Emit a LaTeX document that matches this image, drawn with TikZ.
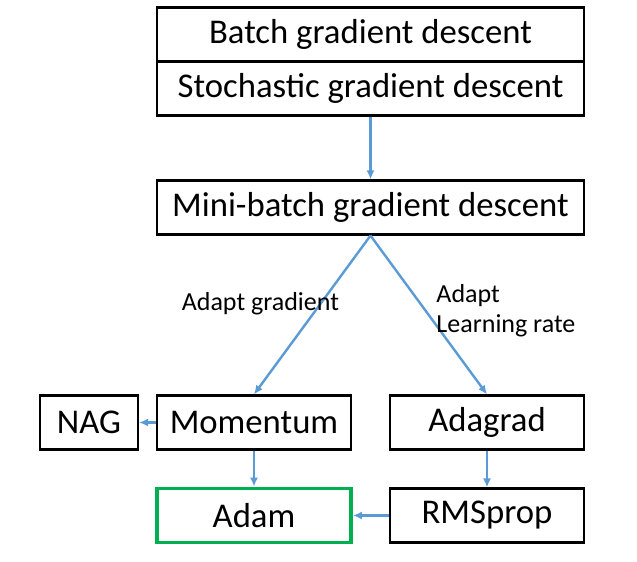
\documentclass[tikz,border=0pt]{standalone}
\usepackage{fontspec}
\setmainfont{Carlito}
\usetikzlibrary{arrows.meta}
\usetikzlibrary{positioning}
\definecolor{flowblue}{HTML}{5B9BD5}
\definecolor{bestgreen}{HTML}{00B050}

\begin{document}
\begin{tikzpicture}[x=1pt, y=-1pt, node distance = 54pt, on grid,
	block/.style = {draw, line width=2.2pt, minimum height=54pt, inner sep=0pt, font=\fontsize{34.7}{40}\selectfont},
	wide/.style = {block, minimum width=427pt},
	small/.style = {block, minimum width=194pt},
	flow/.style = {flowblue, line width=2.4pt, -{Latex[length=9pt,width=8pt]}},
	note/.style = {inner sep=0pt, align=left, text=black, font=\fontsize{26}{30}\selectfont}]
	\useasboundingbox (0,0) rectangle (637,562);
	\node[wide] (batch) at (370.5,34.5) {Batch gradient descent};
	\node[wide] (sgd) [below = of batch] {Stochastic gradient descent};
	\node[wide] (mini) [node distance = 119pt, below = of sgd] {Mini-batch gradient descent};
	\node[small] (momentum) [below left = 215pt and 116.5pt of mini] {Momentum};
	\node[small] (adagrad) [below right = 215pt and 116.5pt of mini] {Adagrad};
	\node[block, minimum width=98pt] (nag) [node distance = 165pt, left = of momentum] {NAG};
	\node[small, draw=bestgreen, line width=3.8pt] (adam) [node distance = 93pt, below = of momentum] {Adam};
	\node[small] (rmsprop) [node distance = 93pt, below = of adagrad] {RMSprop};
	\draw[flow] (sgd) -- (mini);
	\draw[flow] (mini.south) -- node[note, pos=0.43, xshift=-60pt] {Adapt gradient} (momentum.north);
	\draw[flow] (mini.south) -- node[note, pos=0.47, anchor=west, xshift=10pt] {Adapt\\Learning rate} (adagrad.north);
	\draw[flow] (momentum) -- (nag);
	\draw[flow] (momentum) -- (adam);
	\draw[flow] (adagrad) -- (rmsprop);
	\draw[flow] (rmsprop) -- (adam);
\end{tikzpicture}
\end{document}
